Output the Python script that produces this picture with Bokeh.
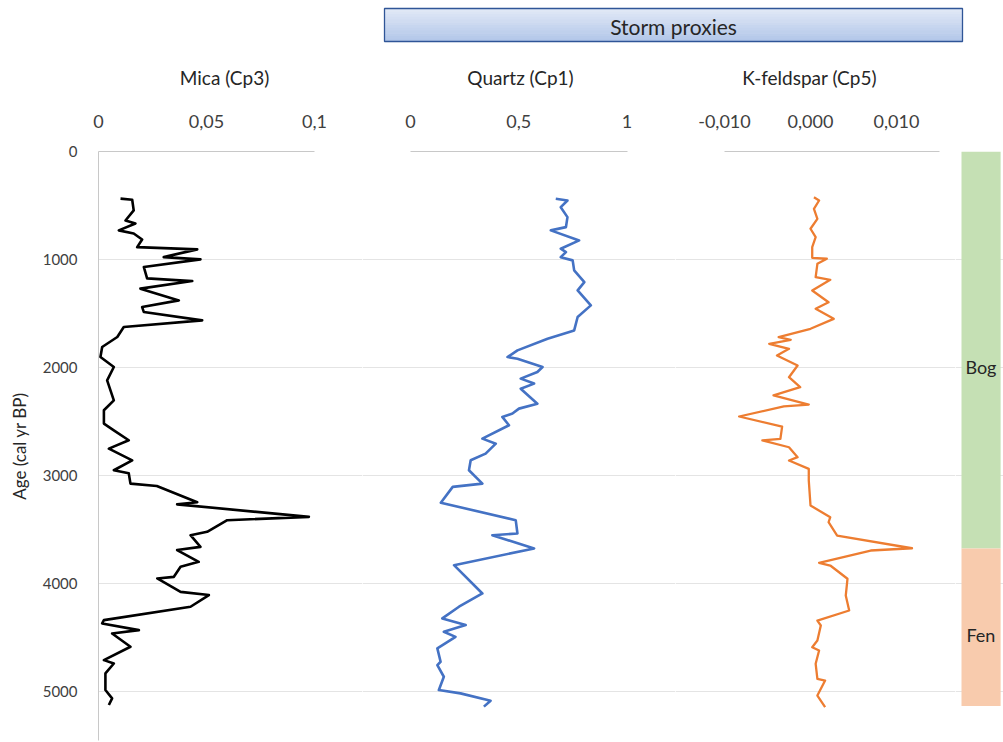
import numpy as np
from bokeh.plotting import figure
from bokeh.layouts import column, row
from bokeh.models import Range1d, FixedTicker
from bokeh.embed import file_html
from bokeh.resources import INLINE
from bokeh.core.properties import value

FONT = "Lato"

# ---------------- data ----------------
mica_age = [437, 447, 546, 639, 667, 731, 760, 815, 886, 907, 979, 1000, 1071, 1176,
            1201, 1271, 1380, 1442, 1488, 1565, 1627, 1719, 1812, 1905, 1997, 2121,
            2306, 2398, 2522, 2584, 2676, 2754, 2862, 2954, 2982, 3078, 3100, 3250,
            3270, 3386, 3417, 3525, 3556, 3664, 3694, 3803, 3849, 3942, 3957, 4081,
            4111, 4219, 4343, 4374, 4436, 4467, 4590, 4714, 4745, 4837, 4991, 5068, 5130]
mica_val = [0.0102, 0.0156, 0.0163, 0.0125, 0.0171, 0.0094, 0.0163, 0.0202, 0.0179,
            0.0457, 0.0302, 0.0472, 0.0210, 0.0225, 0.0434, 0.0194, 0.0372, 0.0202,
            0.0210, 0.0480, 0.0117, 0.0087, 0.0017, 0.0009, 0.0071, 0.0040, 0.0071,
            0.0025, 0.0025, 0.0071, 0.0140, 0.0048, 0.0156, 0.0071, 0.0140, 0.0148,
            0.0270, 0.0457, 0.0364, 0.0974, 0.0596, 0.0503, 0.0426, 0.0472, 0.0364,
            0.0464, 0.0380, 0.0349, 0.0272, 0.0380, 0.0511, 0.0426, 0.0025, 0.0017,
            0.0187, 0.0063, 0.0148, 0.0025, 0.0071, 0.0032, 0.0032, 0.0063, 0.0048]

quartz_age = [438, 454, 516, 608, 701, 731, 824, 901, 932, 979, 1009, 1102, 1210, 1287,
              1426, 1534, 1658, 1735, 1843, 1905, 1920, 1997, 2044, 2105, 2151, 2198,
              2337, 2383, 2429, 2460, 2537, 2661, 2708, 2800, 2862, 2954, 3078, 3108,
              3255, 3417, 3540, 3556, 3679, 3834, 4096, 4219, 4327, 4389, 4451, 4498,
              4605, 4729, 4760, 4868, 4991, 5022, 5090, 5145]
quartz_val = [0.671, 0.725, 0.694, 0.725, 0.718, 0.648, 0.779, 0.694, 0.718, 0.694,
              0.749, 0.756, 0.803, 0.772, 0.833, 0.772, 0.756, 0.633, 0.494, 0.448,
              0.494, 0.610, 0.586, 0.509, 0.571, 0.509, 0.586, 0.501, 0.471, 0.424,
              0.455, 0.332, 0.394, 0.347, 0.278, 0.270, 0.332, 0.195, 0.140, 0.486,
              0.494, 0.378, 0.571, 0.201, 0.332, 0.224, 0.147, 0.255, 0.154, 0.208,
              0.124, 0.139, 0.124, 0.154, 0.131, 0.231, 0.370, 0.339]

kfs_age = [424, 454, 531, 624, 716, 794, 887, 985, 994, 1041, 1165, 1189, 1288, 1397,
           1458, 1551, 1643, 1721, 1745, 1782, 1829, 1891, 1983, 2092, 2184, 2261, 2345,
           2363, 2456, 2549, 2663, 2678, 2741, 2833, 2864, 2941, 3049, 3281, 3389, 3436,
           3559, 3677, 3698, 3812, 3837, 3960, 4115, 4254, 4347, 4393, 4532, 4594, 4625,
           4748, 4887, 4903, 5042, 5150]
kfs_val = [0.0004, 0.0010, 0.0004, 0.0008, 0.0000, 0.0006, 0.0002, 0.0002, 0.0019,
           0.0008, 0.0006, 0.0023, 0.0002, 0.0021, 0.0006, 0.0027, 0.0000, -0.0037,
           -0.0023, -0.0048, -0.0025, -0.0039, -0.0015, -0.0025, -0.0012, -0.0043,
           -0.0002, -0.0031, -0.0083, -0.0033, -0.0035, -0.0056, -0.0025, -0.0015,
           -0.0025, -0.0002, -0.0002, 0.0000, 0.0023, 0.0021, 0.0031, 0.0118, 0.0070,
           0.0010, 0.0023, 0.0043, 0.0041, 0.0045, 0.0008, 0.0012, 0.0008, 0.0002,
           0.0010, 0.0006, 0.0008, 0.0017, 0.0008, 0.0017]

zone_names = ["Bog", "Fen"]
zone_top = [0, 3680]
zone_bottom = [3680, 5140]
zone_label_age = [2000, 4480]
zone_colors = ["#c5e0b4", "#f8cbad"]

age_ticks = [0, 1000, 2000, 3000, 4000, 5000]
mica_ticks = [0, 0.05, 0.1]
mica_tick_labels = ["0", "0,05", "0,1"]
quartz_ticks = [0, 0.5, 1]
quartz_tick_labels = ["0", "0,5", "1"]
kfs_ticks = [-0.01, 0.0, 0.01]
kfs_tick_labels = ["-0,010", "0,000", "0,010"]

# ---------------- layout (pixels) ----------------
W, H = 1003, 742
HEADER_H = 95
ROW_H = H - HEADER_H
TOP = 56            # room above the plotting frames for the tick labels
BOTTOM = 2
LEFT = 98
PX_PER_1000YR = 107.9
frame_h = ROW_H - TOP - BOTTOM
age_max = frame_h / PX_PER_1000YR * 1000

TICK_COLOR = "#404040"
TITLE_COLOR = "#262626"
GRID_COLOR = "#e4e4e4"
AXIS_COLOR = "#c8c8c8"


def x_limits(frame_w, lead_px, px_per_unit, first_value):
    start = first_value - lead_px / px_per_unit
    return start, start + frame_w / px_per_unit


def panel(frame_w, xlim, ticks, labels, bounds, left_border=0, y_axis=False):
    p = figure(width=frame_w + left_border, height=ROW_H,
               x_range=Range1d(*xlim), y_range=Range1d(age_max, 0),
               x_axis_location="above", y_axis_location="left" if y_axis else None,
               output_backend="svg", toolbar_location=None,
               min_border_left=left_border, min_border_right=0,
               min_border_top=TOP, min_border_bottom=BOTTOM)
    p.outline_line_color = None
    p.background_fill_color = None
    p.border_fill_color = None
    p.xgrid.visible = False
    p.ygrid.ticker = FixedTicker(ticks=age_ticks)
    p.ygrid.grid_line_color = GRID_COLOR
    ax = p.xaxis[0]
    ax.ticker = FixedTicker(ticks=ticks)
    ax.major_label_overrides = {t: l for t, l in zip(ticks, labels)}
    ax.bounds = bounds
    ax.axis_line_color = AXIS_COLOR
    ax.major_tick_line_color = None
    ax.minor_tick_line_color = None
    ax.major_label_text_font = FONT
    ax.major_label_text_font_size = "18px"
    ax.major_label_text_color = TICK_COLOR
    ax.major_label_standoff = 18
    if y_axis:
        yax = p.yaxis[0]
        yax.ticker = FixedTicker(ticks=age_ticks)
        yax.axis_line_color = AXIS_COLOR
        yax.major_tick_line_color = None
        yax.minor_tick_line_color = None
        yax.major_label_text_font = FONT
        yax.major_label_text_font_size = "15px"
        yax.major_label_text_color = TICK_COLOR
        yax.major_label_standoff = 15
        yax.axis_label = "Age (cal yr BP)"
        yax.axis_label_text_font = FONT
        yax.axis_label_text_font_size = "17px"
        yax.axis_label_text_font_style = "normal"
        yax.axis_label_text_color = TITLE_COLOR
        yax.axis_label_standoff = 10
    return p


# Mica panel (carries the age axis)
p_mica = panel(264, x_limits(264, 0, 2160, 0.0), mica_ticks, mica_tick_labels,
               (0, 0.1), left_border=LEFT, y_axis=True)
p_mica.line(mica_val, mica_age, line_color="#000000", line_width=2.6, line_join="round")

# Quartz panel
p_qz = panel(313, x_limits(313, 48, 216.5, 0.0), quartz_ticks, quartz_tick_labels, (0, 1))
p_qz.line(quartz_val, quartz_age, line_color="#4472c4", line_width=2.6, line_join="round")

# K-feldspar panel
p_kfs = panel(280, x_limits(280, 49, 8600, -0.01), kfs_ticks, kfs_tick_labels, (-0.01, 0.015))
p_kfs.line(kfs_val, kfs_age, line_color="#ed7d31", line_width=2.3, line_join="round")

# Peat type column
p_zone = figure(width=48, height=ROW_H, x_range=Range1d(0, 1), y_range=Range1d(age_max, 0),
                x_axis_location=None, y_axis_location=None,
                output_backend="svg", toolbar_location=None,
                min_border_left=0, min_border_right=0, min_border_top=TOP,
                min_border_bottom=BOTTOM)
p_zone.outline_line_color = None
p_zone.xgrid.visible = False
p_zone.ygrid.ticker = FixedTicker(ticks=age_ticks)
p_zone.ygrid.grid_line_color = GRID_COLOR
p_zone.quad(left=0.125, right=0.94, top=zone_top, bottom=zone_bottom,
            fill_color=zone_colors, line_color=None)
p_zone.text(x=0.53, y=zone_label_age, text=zone_names, text_align="center",
            text_baseline="middle", text_font=value(FONT), text_font_size="18px",
            text_color=TITLE_COLOR)

# Header: panel titles and the "Storm proxies" banner
hdr = figure(width=W, height=HEADER_H, x_range=Range1d(0, W), y_range=Range1d(HEADER_H, 0),
             x_axis_location=None, y_axis_location=None,
             output_backend="svg", toolbar_location=None,
             min_border=0, min_border_left=0, min_border_right=0,
             min_border_top=0, min_border_bottom=0)
hdr.outline_line_color = None
hdr.xgrid.visible = False
hdr.ygrid.visible = False

box_l, box_r, box_t, box_b = 384, 962, 8, 41
n_strips = 12
edges = np.linspace(box_t, box_b, n_strips + 1)
c_top = np.array([0xe2, 0xea, 0xf7])
c_bot = np.array([0xb1, 0xc5, 0xe8])
strip_colors = []
for i in range(n_strips):
    c = c_top + (c_bot - c_top) * (i + 0.5) / n_strips
    strip_colors.append("#%02x%02x%02x" % tuple(int(round(v)) for v in c))
hdr.quad(left=box_l, right=box_r, top=edges[:-1], bottom=edges[1:] + 0.5,
         fill_color=strip_colors, line_color=None)
hdr.quad(left=box_l, right=box_r, top=box_t, bottom=box_b, fill_color=None,
         line_color="#2f5597", line_width=1.3)
hdr.text(x=[(box_l + box_r) / 2], y=[(box_t + box_b) / 2 + 1], text=["Storm proxies"],
         text_align="center", text_baseline="middle", text_font=value(FONT),
         text_font_size="21px", text_color=TITLE_COLOR)

titles = ["Mica (Cp3)", "Quartz (Cp1)", "K-feldspar (Cp5)"]
title_x = [224, 520, 809]
hdr.text(x=title_x, y=[77] * 3, text=titles, text_align="center", text_baseline="middle",
         text_font=value(FONT), text_font_size="19px", text_color=TITLE_COLOR)

layout = column(hdr, row(p_mica, p_qz, p_kfs, p_zone, spacing=0), spacing=0)

with open("out.html", "w") as f:
    f.write(file_html(layout, INLINE))
